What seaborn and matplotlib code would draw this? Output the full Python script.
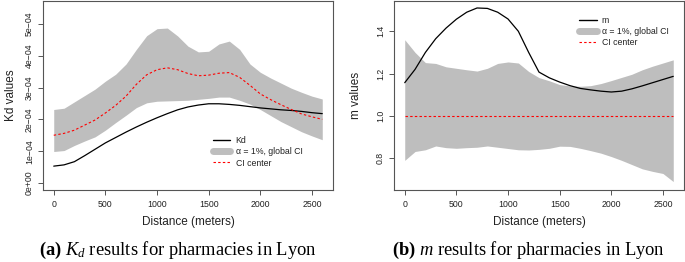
import numpy as np
import pandas as pd
import seaborn as sns
import matplotlib
matplotlib.use("Agg")
import matplotlib.pyplot as plt
from matplotlib.lines import Line2D

# ---------------- data ----------------
distance = [0, 100, 200, 300, 400, 500, 600, 700, 800, 900, 1000, 1100, 1200, 1300,
            1400, 1500, 1600, 1700, 1800, 1900, 2000, 2100, 2200, 2300, 2400, 2500, 2600]

# panel (a) values in units of 1e-4
kd_obs = [0.53, 0.57, 0.67, 0.86, 1.06, 1.26, 1.43, 1.60, 1.76, 1.91, 2.05, 2.18, 2.30, 2.39,
          2.45, 2.49, 2.49, 2.47, 2.44, 2.40, 2.36, 2.33, 2.30, 2.28, 2.25, 2.21, 2.18]
kd_center = [1.50, 1.56, 1.66, 1.82, 1.98, 2.20, 2.44, 2.73, 3.10, 3.40, 3.56, 3.62, 3.56, 3.44,
             3.37, 3.39, 3.45, 3.47, 3.32, 3.07, 2.80, 2.62, 2.46, 2.31, 2.17, 2.08, 2.00]
kd_upper = [2.31, 2.35, 2.55, 2.75, 2.95, 3.20, 3.42, 3.74, 4.20, 4.63, 4.85, 4.87, 4.62, 4.30,
            4.12, 4.14, 4.37, 4.46, 4.20, 3.74, 3.48, 3.30, 3.14, 2.98, 2.85, 2.73, 2.64]
kd_lower = [0.99, 1.02, 1.18, 1.32, 1.45, 1.66, 1.90, 2.13, 2.37, 2.52, 2.57, 2.58, 2.59, 2.60,
            2.63, 2.66, 2.70, 2.70, 2.60, 2.48, 2.31, 2.12, 1.93, 1.77, 1.61, 1.48, 1.36]
kd_scale = 1e-4

# panel (b)
m_obs = [1.157, 1.22, 1.30, 1.365, 1.415, 1.457, 1.49, 1.51, 1.508, 1.49, 1.458, 1.40, 1.30, 1.207,
         1.180, 1.160, 1.143, 1.130, 1.123, 1.117, 1.113, 1.117, 1.128, 1.142, 1.157, 1.172, 1.187]
m_center = [1.0] * len(distance)
m_upper = [1.36, 1.30, 1.252, 1.248, 1.232, 1.225, 1.218, 1.212, 1.225, 1.248, 1.255, 1.250, 1.21, 1.181,
           1.166, 1.148, 1.142, 1.140, 1.143, 1.153, 1.167, 1.182, 1.197, 1.218, 1.235, 1.250, 1.265]
m_lower = [0.79, 0.832, 0.840, 0.858, 0.850, 0.847, 0.850, 0.852, 0.858, 0.852, 0.846, 0.840, 0.839, 0.842,
           0.847, 0.857, 0.856, 0.847, 0.836, 0.824, 0.808, 0.790, 0.770, 0.750, 0.738, 0.728, 0.690]

x_ticks = [0, 500, 1000, 1500, 2000, 2500]
kd_ticks = [0, 1e-4, 2e-4, 3e-4, 4e-4, 5e-4]
kd_ticklabels = ["0e+00", "1e\u221204", "2e\u221204", "3e\u221204", "4e\u221204", "5e\u221204"]
m_ticks = [0.8, 1.0, 1.2, 1.4]
m_ticklabels = ["0.8", "1.0", "1.2", "1.4"]

captions = [r"$\mathbf{(a)}\ K_d$ results for pharmacies in Lyon",
            r"$\mathbf{(b)}\ m$ results for pharmacies in Lyon"]

# ---------------- style ----------------
sns.set_theme(style="white")
plt.rcParams["font.family"] = ["Liberation Sans", "DejaVu Sans"]
plt.rcParams["mathtext.fontset"] = "custom"
plt.rcParams["mathtext.rm"] = "Liberation Serif"
plt.rcParams["mathtext.it"] = "Liberation Serif:italic"
plt.rcParams["mathtext.bf"] = "Liberation Serif:bold"

BAND = "#bebebe"
SPINE = "#555555"
TXT = "#222222"

fig = plt.figure(figsize=(6.85, 2.62), dpi=100)
W, H = 685.0, 262.0
axA = fig.add_axes([43 / W, 1 - 190 / H, 290 / W, 189 / H])
axB = fig.add_axes([394 / W, 1 - 190 / H, 290 / W, 189 / H])

dfA = pd.DataFrame({"d": distance,
                    "obs": np.array(kd_obs) * kd_scale,
                    "center": np.array(kd_center) * kd_scale,
                    "upper": np.array(kd_upper) * kd_scale,
                    "lower": np.array(kd_lower) * kd_scale})
dfB = pd.DataFrame({"d": distance, "obs": m_obs, "center": m_center,
                    "upper": m_upper, "lower": m_lower})


def draw(ax, df, name, yticks, yticklabels, ylim, ylabel, leg_anchor, leg_pad):
    ax.fill_between(df["d"], df["lower"], df["upper"], color=BAND, lw=0, zorder=1)
    sns.lineplot(data=df, x="d", y="obs", ax=ax, color="black", lw=0.9, zorder=3)
    sns.lineplot(data=df, x="d", y="center", ax=ax, color="#ff0000", lw=0.8,
                 dashes=False, zorder=4)
    ax.lines[-1].set_dashes((2.2, 2.0))
    ax.set_xlim(-104, 2704)
    ax.set_ylim(*ylim)
    ax.set_xticks(x_ticks)
    ax.set_xticklabels([str(t) for t in x_ticks])
    ax.set_yticks(yticks)
    ax.set_yticklabels(yticklabels, rotation=90, va="center")
    ax.tick_params(axis="both", which="both", direction="out", length=3.5, width=0.7,
                   color=SPINE, labelsize=6.3, labelcolor=TXT, bottom=True, left=True)
    ax.tick_params(axis="x", pad=4)
    ax.tick_params(axis="y", pad=3)
    for s in ax.spines.values():
        s.set_color(SPINE)
        s.set_linewidth(0.8)
        s.set_visible(True)
    ax.set_xlabel("Distance (meters)", fontsize=8.5, color=TXT, labelpad=5)
    ax.set_ylabel(ylabel, fontsize=8.5, color=TXT, labelpad=leg_pad)
    ax.grid(False)
    handles = [Line2D([], [], color="black", lw=1.0),
               Line2D([], [], color=BAND, lw=5, solid_capstyle="round"),
               Line2D([], [], color="#ff0000", lw=0.8, dashes=(2.2, 2.0))]
    labels = [name, "\u03b1 = 1%, global CI", "CI center"]
    ax.legend(handles, labels, loc="upper left", bbox_to_anchor=leg_anchor,
              frameon=False, fontsize=6.3, borderpad=0, borderaxespad=0,
              handlelength=2.0, handletextpad=0.6, labelspacing=0.25,
              labelcolor=TXT)


draw(axA, dfA, "Kd", kd_ticks, kd_ticklabels, (-2.2e-5, 5.72e-4), "Kd values",
     (0.586, 0.285), 6)
draw(axB, dfB, "m", m_ticks, m_ticklabels, (0.65, 1.543), "m values",
     (0.638, 0.92), 10)

for cx, cap in zip([177.5, 528], captions):
    fig.text(cx / W, 1 - 250 / H, cap, ha="center", va="center", fontsize=13.3,
             color="black", family=["Liberation Serif", "DejaVu Serif"])

fig.savefig("out.png", dpi=100)
